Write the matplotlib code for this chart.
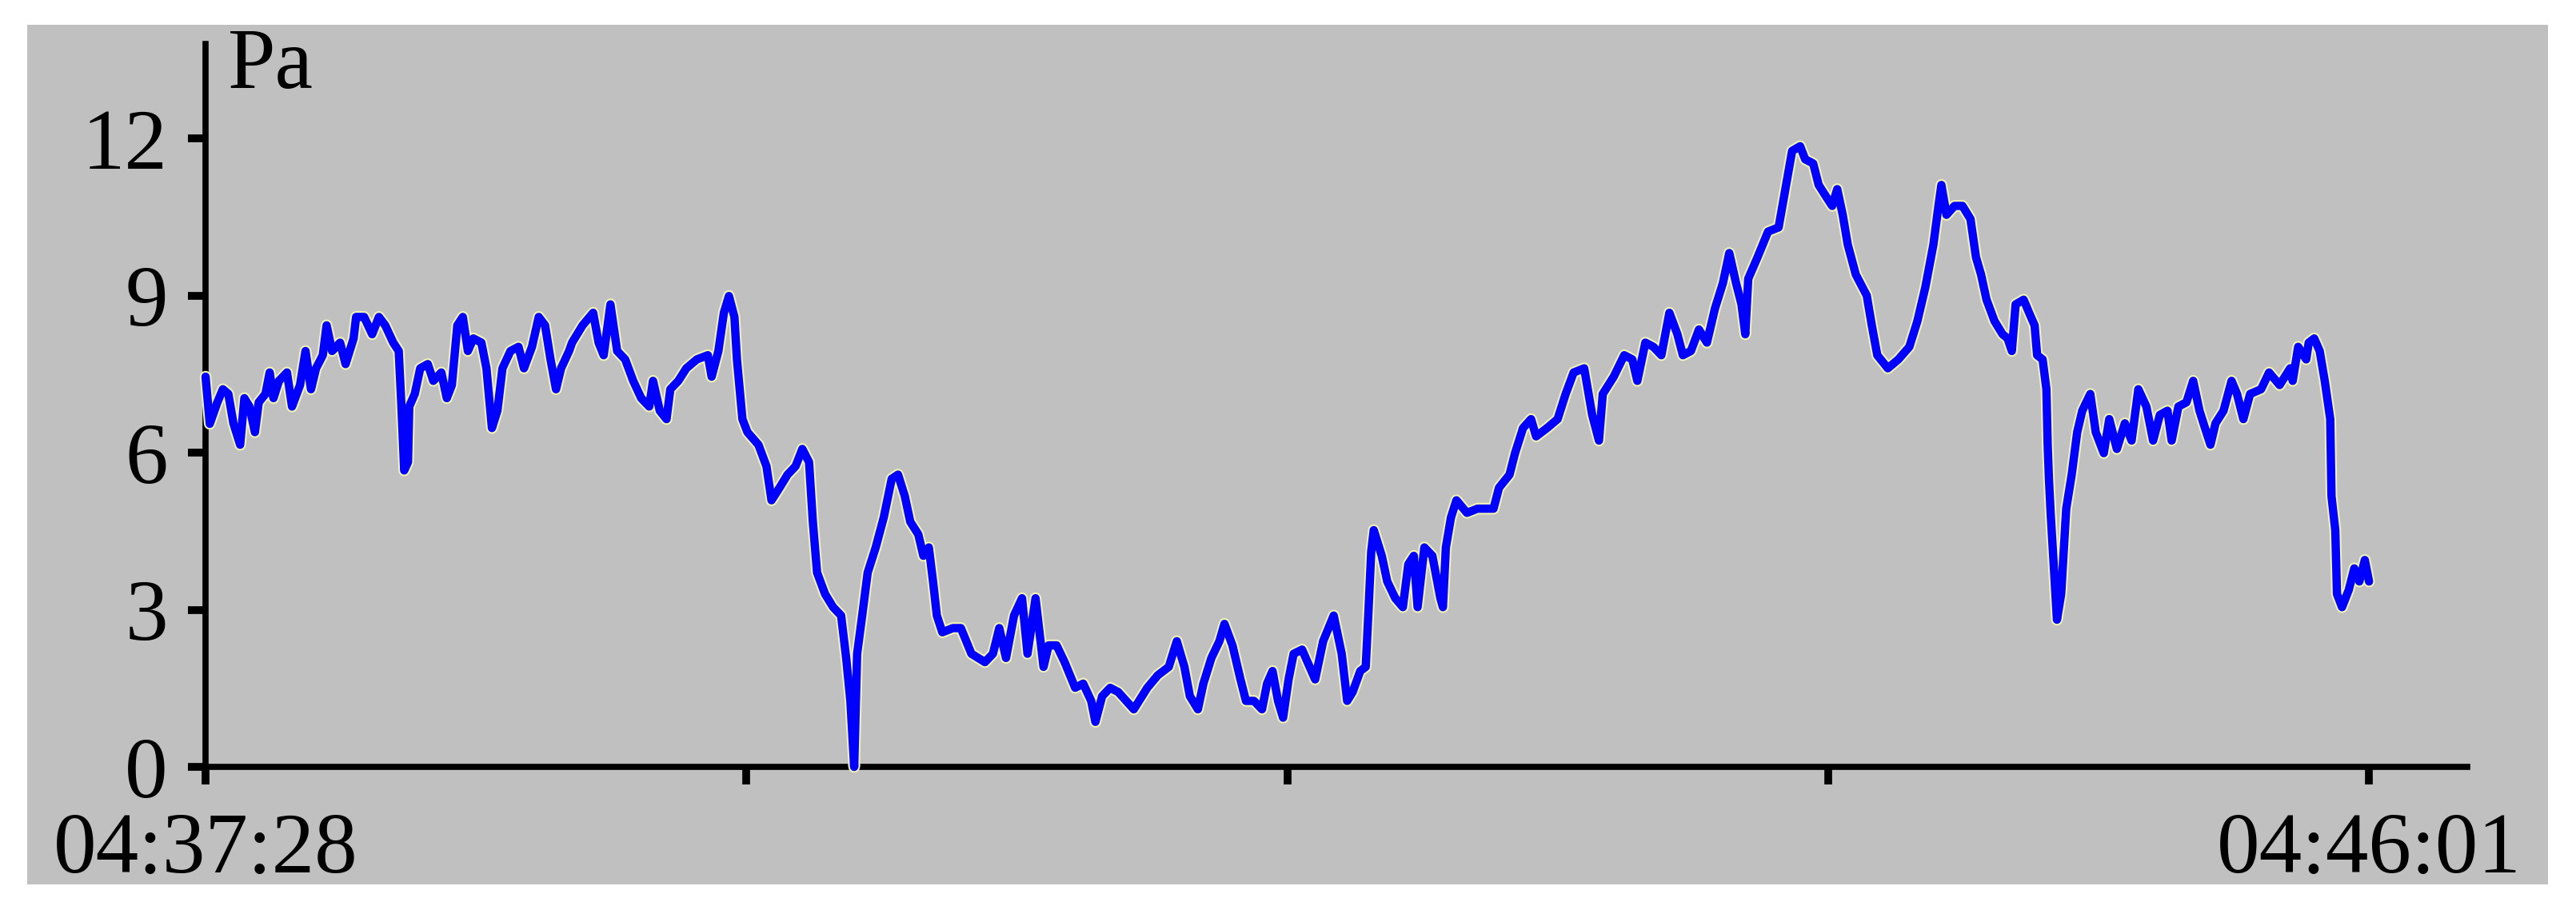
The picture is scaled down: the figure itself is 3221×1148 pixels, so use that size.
import matplotlib.pyplot as plt
import matplotlib.patheffects as pe
from matplotlib.patches import Rectangle

# --- data (seconds after 04:37:28, pressure in Pa) ---
seconds = [
    0.0, 1.0, 2.8, 4.1, 5.4, 6.6, 8.2, 9.2, 10.4, 11.7, 12.6, 14.2, 15.2, 16.1, 17.4,
    19.3, 20.5, 22.4, 23.7, 25.0, 26.2, 27.8, 28.7, 30.0, 31.9, 33.2, 35.1, 35.7, 37.6,
    39.5, 41.1, 42.6, 44.5, 45.8, 46.4, 47.1, 48.0, 48.3, 49.6, 50.9, 52.7, 54.0, 55.9,
    57.2, 58.4, 59.7, 61.0, 62.2, 63.5, 65.4, 66.6, 67.9, 69.2, 70.4, 72.3, 74.2, 75.5,
    77.4, 79.0, 80.5, 81.8, 83.1, 84.3, 86.2,
    86.9, 89.4, 91.9, 93.2, 94.4, 96.0, 97.6, 99.5, 101.4, 103.3, 105.2, 106.1, 107.7,
    109.3, 110.2, 112.1, 114.0, 116.5, 119.1, 120.0, 121.6, 122.9, 124.1, 125.4, 126.0,
    127.3, 128.5, 131.1, 133.0, 134.2, 136.1, 138.0, 139.9, 141.5, 143.1, 144.0, 145.0,
    146.9, 148.8, 150.7, 151.9, 152.9, 153.8, 154.5, 155.7, 157.0, 158.9, 160.8, 162.7,
    164.2, 165.8, 167.1, 169.0, 170.2, 171.5,
    172.5, 173.4, 174.7, 177.2, 179.1, 181.6, 184.8, 186.7, 188.2, 189.8, 191.7, 193.6,
    194.9, 196.8, 198.7, 199.9, 201.8, 203.7, 206.2, 208.1, 210.0, 211.0, 212.6, 214.5,
    216.4, 218.3, 220.1, 223.3, 225.8, 228.4, 230.3, 232.1, 233.4, 235.3, 236.6, 238.5,
    240.4, 241.6, 243.5, 245.4, 246.7, 248.6, 250.5, 251.7, 253.0, 254.3, 255.5, 256.8,
    258.0, 260.0, 261.8, 263.1, 265.0, 267.5, 269.4, 270.7, 272.0, 273.8, 275.1, 275.7,
    276.4, 277.0, 278.9, 280.2, 282.1, 283.9, 285.2, 286.5, 287.4, 289.0, 290.9, 292.8,
    293.4, 294.1, 295.3, 296.6, 299.1, 301.6, 304.2, 305.4, 306.7, 309.2, 310.5, 312.4,
    314.3, 315.5, 318.1, 320.6, 322.5, 324.4, 326.9, 328.8, 330.4, 331.3, 333.9, 336.4,
    338.3, 339.5, 341.4,
    343.3, 345.2, 347.1, 349.0, 350.3, 352.2, 354.1, 356.0, 357.9, 359.8, 361.3, 362.9,
    364.2, 365.1, 365.8, 368.0, 370.5, 373.0, 374.6, 376.2, 378.1, 379.3, 381.2, 382.5,
    384.4, 385.7, 386.9, 388.2, 389.4, 391.3, 393.9, 395.1, 396.4, 398.9, 401.4, 404.0,
    405.9, 407.8, 409.7, 410.9, 411.6, 412.8, 414.7, 416.6, 418.5, 419.8, 421.0, 422.3,
    424.2, 426.1, 427.3,
    428.3, 429.2, 431.1, 432.4, 433.7, 434.3, 435.6, 436.5, 436.8, 437.1, 437.5, 438.1,
    439.0, 440.0, 440.6, 441.2, 442.5, 443.8, 445.0, 446.9, 448.2, 450.1, 451.4, 453.2,
    455.1, 456.7, 458.3, 460.2, 461.8, 463.4, 465.2, 466.2, 467.8, 469.7, 471.3, 472.8,
    474.1, 475.4, 476.6, 478.5, 480.4, 481.7, 483.2, 484.8, 487.4, 489.3, 491.8, 494.3,
    494.9, 496.2, 498.1, 498.7, 500.0, 501.3, 502.5, 503.8, 504.1, 505.0, 505.4, 506.6,
    508.2, 509.5, 510.7, 512.0, 513.0,
]
pressure = [
    7.45, 6.55, 6.96, 7.21, 7.12, 6.56, 6.15, 7.04, 6.88, 6.39, 6.96, 7.12, 7.53, 7.04, 7.37,
    7.53, 6.88, 7.29, 7.94, 7.21, 7.61, 7.86, 8.43, 7.94, 8.10, 7.69, 8.18, 8.59, 8.59,
    8.26, 8.59, 8.43, 8.10, 7.94, 6.96, 5.66, 5.82, 6.88, 7.12, 7.61, 7.69, 7.37, 7.53,
    7.04, 7.29, 8.43, 8.59, 7.94, 8.18, 8.10, 7.61, 6.47, 6.80, 7.61, 7.94, 8.02, 7.61,
    8.02, 8.59, 8.43, 7.78, 7.21, 7.61, 7.94,
    8.10, 8.43, 8.67, 8.10, 7.86, 8.83, 7.94, 7.78, 7.37, 7.04, 6.88, 7.37, 6.80,
    6.64, 7.21, 7.37, 7.61, 7.78, 7.86, 7.45, 7.94, 8.67, 8.99, 8.59, 7.78,
    6.64, 6.39, 6.15, 5.74, 5.09, 5.33, 5.58, 5.74, 6.07, 5.82, 4.68, 3.71,
    3.30, 3.05, 2.89, 2.08, 1.26, 0.0, 2.16, 2.89, 3.71, 4.19, 4.76, 5.50,
    5.58, 5.17, 4.68, 4.44, 4.03, 4.19,
    3.54, 2.89, 2.57, 2.65, 2.65, 2.16, 2.00, 2.16, 2.65, 2.08, 2.89, 3.22,
    2.16, 3.22, 1.91, 2.32, 2.32, 2.00, 1.51, 1.59, 1.26, 0.86, 1.35, 1.51,
    1.43, 1.26, 1.10, 1.51, 1.75, 1.91, 2.40, 1.91, 1.35, 1.10, 1.59, 2.08,
    2.40, 2.73, 2.32, 1.67, 1.26, 1.26, 1.10, 1.59, 1.83, 1.26, 0.94, 1.67,
    2.16, 2.24, 1.91, 1.67, 2.40, 2.89, 2.16, 1.26, 1.43, 1.83, 1.91, 2.89,
    4.11, 4.52, 4.03, 3.54, 3.22, 3.05, 3.87, 4.03, 3.05, 4.19, 4.03, 3.22,
    3.05, 4.19, 4.76, 5.09, 4.85, 4.93, 4.93, 4.93, 5.33, 5.58, 5.99, 6.47,
    6.64, 6.31, 6.47, 6.64, 7.12, 7.53, 7.61, 6.72, 6.23, 7.12, 7.45, 7.86,
    7.78, 7.37, 8.10,
    8.02, 7.86, 8.67, 8.26, 7.86, 7.94, 8.35, 8.10, 8.75, 9.24, 9.81, 9.24,
    8.83, 8.26, 9.32, 9.73, 10.22, 10.30, 11.03, 11.76, 11.85, 11.60, 11.52, 11.11,
    10.87, 10.71, 11.03, 10.54, 9.97, 9.40, 9.00, 8.43, 7.86, 7.61, 7.78, 8.02,
    8.51, 9.16, 9.97, 10.71, 11.11, 10.54, 10.71, 10.71, 10.46, 9.73, 9.40, 8.92,
    8.51, 8.26, 8.18,
    7.94, 8.83, 8.92, 8.67, 8.43, 7.86, 7.78, 7.21, 6.15, 5.50, 4.85, 4.03,
    2.81, 3.30, 4.11, 4.93, 5.58, 6.39, 6.80, 7.12, 6.39, 5.99, 6.64, 6.07,
    6.56, 6.23, 7.21, 6.88, 6.23, 6.72, 6.80, 6.23, 6.88, 6.96, 7.37, 6.80,
    6.47, 6.15, 6.56, 6.80, 7.37, 7.12, 6.64, 7.12, 7.21, 7.53, 7.29, 7.61,
    7.37, 8.02, 7.78, 8.10, 8.18, 7.94, 7.37, 6.64, 5.17, 4.52, 3.30, 3.05,
    3.38, 3.79, 3.54, 3.95, 3.54,
]

x_ticks = [0, 128.25, 256.5, 384.75, 513]
x_labels = ["04:37:28", "", "", "", "04:46:01"]
y_ticks = [0, 3, 6, 9, 12]
y_labels = ["0", "3", "6", "9", "12"]
unit = "Pa"

plt.rcParams['font.family'] = ['Liberation Serif', 'DejaVu Serif']

fig = plt.figure(figsize=(32.21, 11.48), dpi=100)
fig.patch.set_facecolor('white')
# grey panel behind the whole chart
fig.patches.append(Rectangle((0.0106, 0.0366), 0.9786, 0.9364, transform=fig.transFigure,
                             facecolor='#c0c0c0', edgecolor='none', zorder=-5))

ax = fig.add_axes([0.0798, 0.1646, 0.878, 0.7874])
ax.set_facecolor('none')
ax.set_zorder(1)

ax.plot(seconds, pressure, color='#0000ff', linewidth=7.5, solid_joinstyle='round',
        solid_capstyle='round',
        path_effects=[pe.Stroke(linewidth=10.5, foreground='#f2f2b4', joinstyle='round'),
                      pe.Normal()],
        clip_on=False, zorder=3)

ax.set_xlim(0, 536.3)
ax.set_ylim(0, 13.8)

for side in ['top', 'right']:
    ax.spines[side].set_visible(False)
for side in ['left', 'bottom']:
    ax.spines[side].set_linewidth(5.5)
    ax.spines[side].set_color('black')

ax.set_xticks(x_ticks)
ax.set_xticklabels(x_labels)
ax.set_yticks(y_ticks)
ax.set_yticklabels(y_labels)
ax.tick_params(axis='both', direction='out', length=16, width=7, color='black',
               labelsize=77, labelcolor='black')
ax.tick_params(axis='x', pad=25)
ax.tick_params(axis='y', pad=18)

ax.text(0.0099, 0.939, unit, transform=ax.transAxes, fontsize=77,
        ha='left', va='baseline', color='black')

fig.savefig('out.png', dpi=100)
